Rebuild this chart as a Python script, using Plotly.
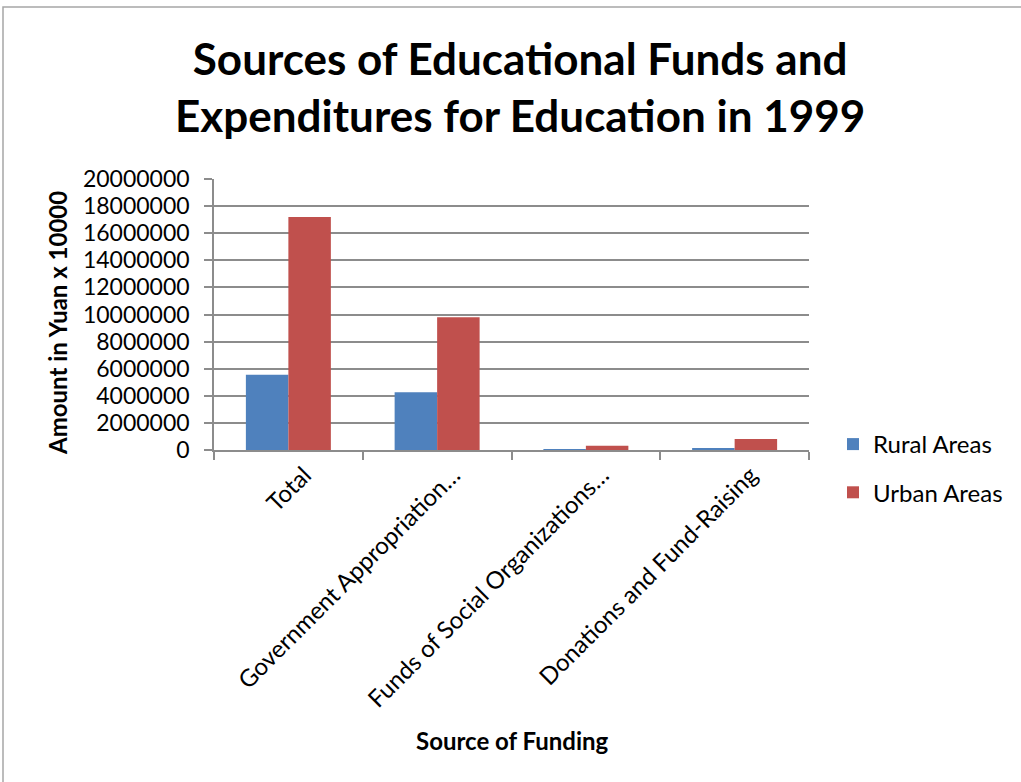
import plotly.graph_objects as go

# Sources of educational funds, 1999 (amounts in yuan x 10000)
categories = [
    "Total",
    "Government Appropriation…",
    "Funds of Social Organizations…",
    "Donations and Fund-Raising",
]
rural_areas = [5560000, 4260000, 10000, 110000]
urban_areas = [17200000, 9790000, 320000, 820000]

y_ticks = list(range(0, 20000001, 2000000))

BLUE = "#4F81BD"
RED = "#C0504D"
GRID = "#8C8C8C"
FONT = "Lato, Calibri, 'Open Sans', sans-serif"

W, H = 1021, 782
L, R, T, B = 214, 212, 179, 332
plot_w = W - L - R
plot_h = H - T - B


def px_x(x):
    return (x - L) / plot_w


def px_y(y):
    return (H - B - y) / plot_h


fig = go.Figure()
fig.add_trace(go.Bar(name="Rural Areas", x=categories, y=rural_areas,
                     marker=dict(color=BLUE, line=dict(width=0)),
                     legendgroup="rural"))
fig.add_trace(go.Bar(name="Urban Areas", x=categories, y=urban_areas,
                     marker=dict(color=RED, line=dict(width=0)),
                     legendgroup="urban"))

fig.update_layout(
    width=W, height=H,
    margin=dict(l=L, r=R, t=T, b=B),
    paper_bgcolor="white",
    plot_bgcolor="white",
    font=dict(family=FONT, color="black", size=23),
    barmode="group",
    bargap=0.4286,
    bargroupgap=0,
    showlegend=True,
    legend=dict(
        x=px_x(833), xanchor="left",
        y=px_y(422), yanchor="top",
        font=dict(size=24),
        traceorder="grouped",
        tracegroupgap=14,
        bgcolor="rgba(0,0,0,0)",
    ),
    xaxis=dict(
        type="category",
        tickson="boundaries",
        ticks="outside", ticklen=8, tickcolor=GRID, tickwidth=1.5,
        showline=True, linecolor=GRID, linewidth=1.5,
        showgrid=False,
        tickangle=-45,
        ticklabelshift=16,
        tickfont=dict(size=24),
    ),
    yaxis=dict(
        range=[0, 20000000],
        tickvals=y_ticks,
        tickformat="d",
        ticks="outside", ticklen=8, tickcolor=GRID, tickwidth=1.5,
        ticklabelstandoff=10,
        showline=True, linecolor=GRID, linewidth=1.5,
        showgrid=True, gridcolor=GRID, gridwidth=1.5,
        zeroline=False,
        tickfont=dict(size=23),
    ),
    annotations=[
        dict(
            text="<b>Sources of Educational Funds and<br>Expenditures for Education in 1999</b>",
            xref="paper", yref="paper",
            x=px_x(520), y=px_y(87),
            xanchor="center", yanchor="middle",
            showarrow=False,
            font=dict(size=44, family=FONT),
        ),
        dict(
            text="<b>Amount in Yuan x 10000</b>",
            xref="paper", yref="paper",
            x=px_x(57), y=px_y(323),
            xanchor="center", yanchor="middle",
            textangle=-90,
            showarrow=False,
            font=dict(size=24, family=FONT),
        ),
        dict(
            text="<b>Source of Funding</b>",
            xref="paper", yref="paper",
            x=px_x(512), y=px_y(740),
            xanchor="center", yanchor="middle",
            showarrow=False,
            font=dict(size=24, family=FONT),
        ),
    ],
    shapes=[
        dict(type="rect", xref="paper", yref="paper",
             x0=px_x(3), x1=px_x(1040), y0=px_y(800), y1=px_y(7),
             line=dict(color="#A6A6A6", width=1.5), layer="below"),
    ],
)

fig.write_html("out.html")
